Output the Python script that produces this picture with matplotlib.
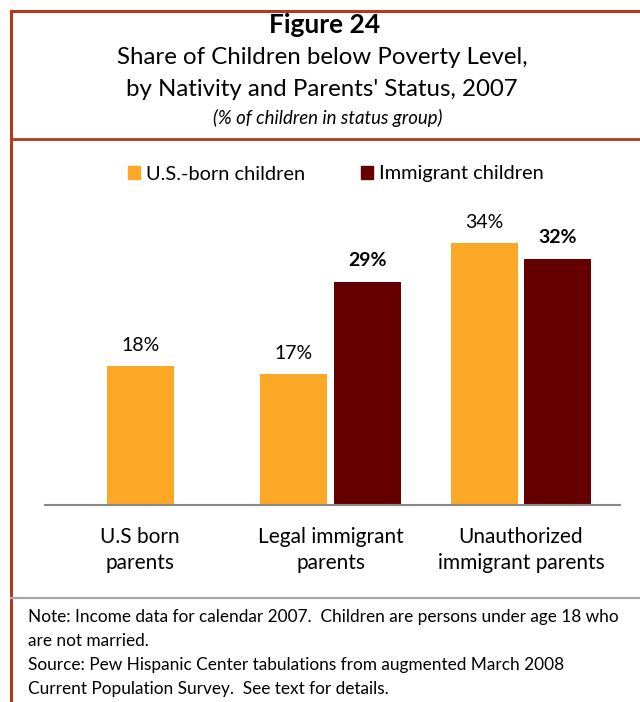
import numpy as np
import matplotlib.pyplot as plt
from matplotlib.lines import Line2D
from matplotlib.patches import Rectangle

# ---- data ----
groups = ['U.S born\nparents', 'Legal immigrant\nparents', 'Unauthorized\nimmigrant parents']
us_born = [18, 17, 34]
immigrant = [None, 29, 32]
series_names = ['U.S.-born children', 'Immigrant children']

note_lines = ['Note: Income data for calendar 2007.  Children are persons under age 18 who',
              'are not married.',
              'Source: Pew Hispanic Center tabulations from augmented March 2008',
              'Current Population Survey.  See text for details.']

orange = '#FBA826'
maroon = '#650000'
border = '#B23A1C'

plt.rcParams['font.family'] = ['Lato', 'DejaVu Sans']

W, H = 640, 702
fig = plt.figure(figsize=(W / 100, H / 100), dpi=100)


def fx(px):
    return px / W


def fy(py):
    return 1 - py / H


# frame lines
fig.add_artist(Line2D([fx(11), 1], [fy(11), fy(11)], color=border, lw=2.2))
fig.add_artist(Line2D([fx(11), fx(11)], [fy(11), 0], color=border, lw=2.2))
fig.add_artist(Line2D([fx(11), 1], [fy(139), fy(139)], color=border, lw=2.0))
fig.add_artist(Line2D([fx(11), 1], [fy(598), fy(598)], color='#A8A8A8', lw=1.6))

# titles
fig.text(fx(325), fy(25), 'Figure 24', ha='center', va='center', fontsize=19, fontweight='bold')
fig.text(fx(322), fy(58), 'Share of Children below Poverty Level,', ha='center', va='center', fontsize=17.3)
fig.text(fx(322), fy(90), "by Nativity and Parents' Status, 2007", ha='center', va='center', fontsize=17.3)
fig.text(fx(328), fy(118), '(% of children in status group)', ha='center', va='center',
         fontsize=13.4, style='italic')

# bar chart
ax = fig.add_axes([fx(45), fy(505), fx(620) - fx(45), (505 - 150) / H])
x = np.arange(len(groups))
width = 0.352
off = 0.194
lab = 14
for i in range(len(groups)):
    if immigrant[i] is None:
        ax.bar(x[i], us_born[i], width, color=orange)
        ax.text(x[i], us_born[i] + 2.7, f'{us_born[i]}%', ha='center', va='center', fontsize=lab)
    else:
        ax.bar(x[i] - off, us_born[i], width, color=orange)
        ax.bar(x[i] + off, immigrant[i], width, color=maroon)
        ax.text(x[i] - off, us_born[i] + 2.7, f'{us_born[i]}%', ha='center', va='center', fontsize=lab)
        ax.text(x[i] + off, immigrant[i] + 2.7, f'{immigrant[i]}%', ha='center', va='center',
                fontsize=lab, fontweight='bold')

ax.set_xlim(-0.5, 2.52)
ax.set_ylim(0, 46.1)
for s in ['top', 'right', 'left']:
    ax.spines[s].set_visible(False)
ax.spines['bottom'].set_color('#888888')
ax.spines['bottom'].set_linewidth(1.5)
ax.set_yticks([])
ax.set_xticks(x)
ax.set_xticklabels(groups, fontsize=15, linespacing=1.35)
ax.tick_params(axis='x', length=0, pad=16)

# legend
handles = [Rectangle((0, 0), 1, 1, color=orange), Rectangle((0, 0), 1, 1, color=maroon)]
fig.legend(handles, series_names, loc='center', bbox_to_anchor=(fx(336), fy(174)), ncol=2,
           frameon=False, fontsize=14.4, handlelength=0.6, handleheight=0.6,
           handletextpad=0.3, columnspacing=2.8)

# notes
for k, line in enumerate(note_lines):
    fig.text(fx(28), fy(617 + 24 * k), line, ha='left', va='center', fontsize=12.4)

fig.savefig('out.png', dpi=100)
